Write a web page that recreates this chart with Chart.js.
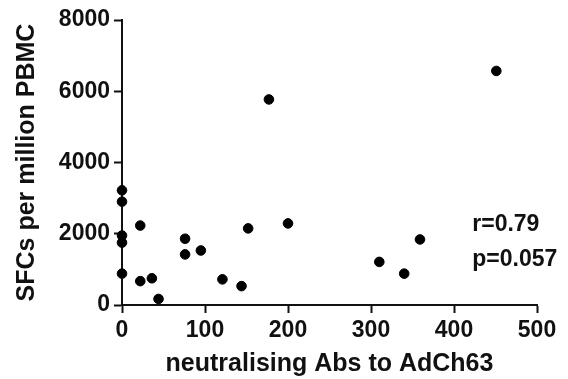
<!DOCTYPE html>
<html>
<head>
<meta charset="utf-8">
<script src="https://cdn.jsdelivr.net/npm/chart.js@4/dist/chart.umd.min.js"></script>
<style>
  html, body { margin: 0; padding: 0; background: #fff; }
  #wrap { width: 568px; height: 379px; }
</style>
</head>
<body>
<div id="wrap"><canvas id="scatter" width="568" height="379"></canvas></div>
<script>
// neutralising Abs (x) vs SFCs per million PBMC (y)
var absTiters = [0, 0, 0, 0, 0, 22, 22, 36, 44, 76, 76, 95, 121, 144, 152, 177, 200, 310, 340, 359, 451];
var sfcCounts = [3220, 2900, 1950, 1750, 880, 2230, 670, 750, 170, 1860, 1420, 1530, 720, 530, 2150, 5770, 2290, 1210, 880, 1840, 6570];
var xTicks = [0, 100, 200, 300, 400, 500];
var yTicks = [0, 2000, 4000, 6000, 8000];
var statLines = ['r=0.79', 'p=0.057'];
var statPos = { x: 422, y: [2260, 1280] };

var points = absTiters.map(function (x, i) { return { x: x, y: sfcCounts[i] }; });
var fontFam = 'Arial, "Liberation Sans", sans-serif';

var statsText = {
  id: 'statsText',
  afterDatasetsDraw: function (chart) {
    var ctx = chart.ctx;
    var xs = chart.scales.x, ys = chart.scales.y;
    ctx.save();
    ctx.fillStyle = '#111';
    ctx.font = 'bold 23px ' + fontFam;
    ctx.textAlign = 'left';
    ctx.textBaseline = 'middle';
    statLines.forEach(function (t, i) {
      ctx.fillText(t, xs.getPixelForValue(statPos.x), ys.getPixelForValue(statPos.y[i]));
    });
    ctx.restore();
  }
};

new Chart(document.getElementById('scatter'), {
  type: 'scatter',
  data: {
    datasets: [{
      data: points,
      backgroundColor: '#000',
      borderColor: '#000',
      pointRadius: 4.8,
      pointHoverRadius: 4.8,
      clip: false
    }]
  },
  options: {
    responsive: false,
    animation: false,
    layout: { padding: { top: 20, right: 31, bottom: 0, left: 0 } },
    plugins: { legend: { display: false }, tooltip: { enabled: false } },
    scales: {
      x: {
        type: 'linear',
        min: 0, max: 500,
        afterBuildTicks: function (s) { s.ticks = xTicks.map(function (v) { return { value: v }; }); },
        afterFit: function (s) { s.height = 74; },
        border: { display: true, color: '#111', width: 2 },
        grid: { display: true, drawOnChartArea: false, drawTicks: true, tickLength: 8, tickWidth: 2, tickColor: '#111' },
        ticks: { color: '#111', font: { family: fontFam, size: 23, weight: 'bold' }, padding: 4, maxRotation: 0,
                 callback: function (v) { return String(v); } },
        title: { display: true, text: 'neutralising Abs to AdCh63', color: '#111',
                 font: { family: fontFam, size: 25, weight: 'bold' }, padding: { top: 0, bottom: 0 } }
      },
      y: {
        type: 'linear',
        min: 0, max: 8000,
        afterBuildTicks: function (s) { s.ticks = yTicks.map(function (v) { return { value: v }; }); },
        afterFit: function (s) { s.width = 122; },
        border: { display: true, color: '#111', width: 2 },
        grid: { display: true, drawOnChartArea: false, drawTicks: true, tickLength: 8, tickWidth: 2, tickColor: '#111' },
        ticks: { color: '#111', font: { family: fontFam, size: 23, weight: 'bold' }, padding: 4,
                 callback: function (v) { return String(v); } },
        title: { display: true, text: 'SFCs per million PBMC', color: '#111',
                 font: { family: fontFam, size: 25, weight: 'bold' }, padding: { top: 12, bottom: 0 } }
      }
    }
  },
  plugins: [statsText]
});
</script>
</body>
</html>
